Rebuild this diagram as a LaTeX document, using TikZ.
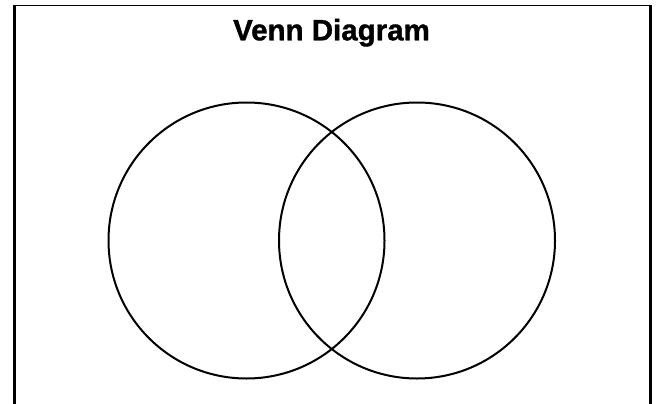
\documentclass[tikz,border=0pt]{standalone}
\usepackage{fontspec}
\setmainfont{Liberation Sans}
\newfontfamily\titlefont[BoldFeatures={FakeBold=1.2}]{Liberation Sans}
\begin{document}
\begin{tikzpicture}[x=1pt,y=-1pt,
  frameside/.style={line width=3pt},
  frametop/.style={line width=1.4pt},
  setcircle/.style={draw, line width=2pt}]
\useasboundingbox (0,0) rectangle (656,404);
\coordinate (fl) at (14.5,404);
\coordinate (fr) at (650.5,404);
\draw[frametop] (13,5.4) -- (652,5.4);
\draw[frameside] (fl) -- (14.5,4.7);
\draw[frameside] (fr) -- (650.5,4.7);
\node[anchor=base, inner sep=0pt, font=\titlefont\fontsize{29.5}{33}\selectfont\bfseries] (title) at (331.5,40.3) {Venn Diagram};
\node[setcircle, circle, minimum size=276pt, inner sep=0pt] (A) at (246.5,240.5) {};
\node[setcircle, circle, minimum size=276pt, inner sep=0pt] (B) at (417,240.5) {};
\end{tikzpicture}
\end{document}
